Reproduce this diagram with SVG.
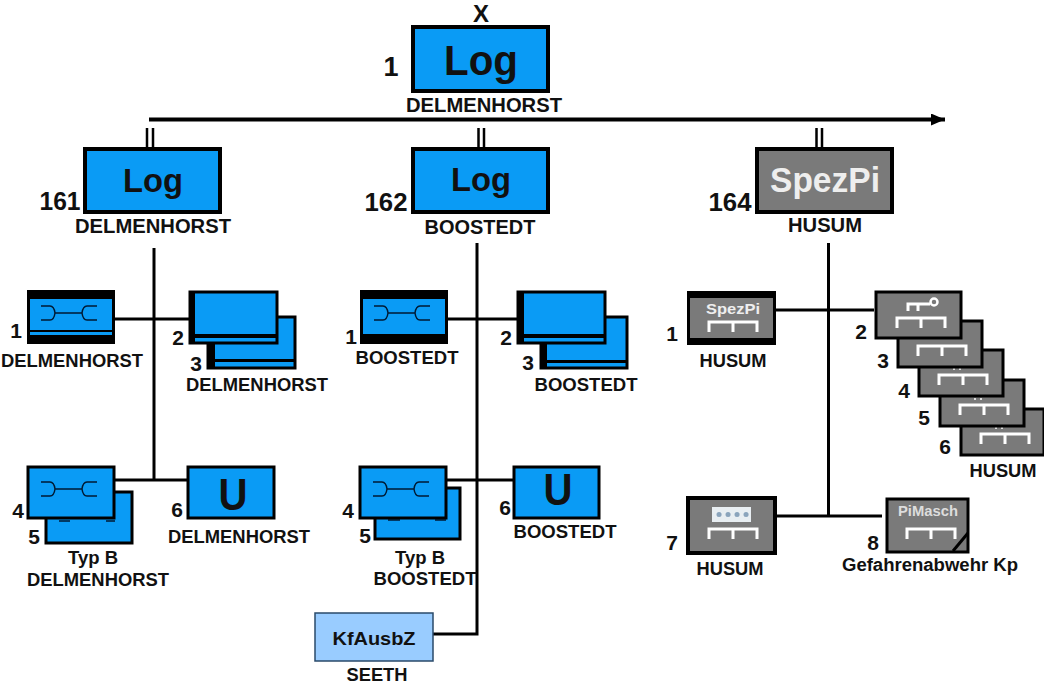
<svg xmlns="http://www.w3.org/2000/svg" width="1044" height="683" viewBox="0 0 1044 683">
<style>
text{font-family:"Liberation Sans",Arial,sans-serif;font-weight:bold;fill:#111;text-anchor:middle}
.lb{font-size:18px}
.lt{font-size:19.500px}
.n{font-size:21px}
.nb{font-size:25px}
.blue{fill:#0a9bf5;stroke:#000;stroke-width:4}
.blues{fill:#0a9bf5;stroke:#000;stroke-width:3}
.gray{fill:#7a7a7a;stroke:#000;stroke-width:4}
.grays{fill:#7a7a7a;stroke:#000;stroke-width:3}
.line{fill:none;stroke:#000;stroke-width:3}
.fork{fill:none;stroke:#001a33;stroke-width:1.500}
.br{fill:none;stroke:#fff;stroke-width:3}
.bit{fill:#fff}
</style>
<defs>
<g id="fork"><path class="fork" d="M0-7H9Q13-7 14 0H41Q42-7 46-7H56M0 7H9Q13 7 14 0M41 0Q42 7 46 7H56"/></g>
<g id="bridge"><path class="br" d="M0 10V0H48V10M24 0V10"/></g>
<marker id="arr" markerUnits="userSpaceOnUse" markerWidth="16" markerHeight="14" refX="14" refY="6" orient="auto"><path d="M0 0L14 6L0 12Z" fill="#000"/></marker>
</defs>
<rect width="1044" height="683" fill="#fff"/>
<g id="connectors">
<path d="M149 119.500H945" fill="none" stroke="#000" stroke-width="4" marker-end="url(#arr)"/>
<path class="line" style="stroke-width:2.500" d="M147 128V148M153 128V148M478.500 128V148M484 128V148M816.500 128V148M822 128V148"/>
<path class="line" d="M154 248V480M115 319H189M115 480H187"/>
<path class="line" d="M477 243V634H433M448 319H517M446 480H513"/>
<path class="line" d="M828.500 243V516M776 310H874M776 516H882"/>
</g>
<g id="top"><text x="481" y="22" style="font-size:24px" textLength="16" lengthAdjust="spacingAndGlyphs">X</text>
<rect class="blue" x="413" y="27" width="135" height="64"/>
<text x="481" y="75" style="font-size:43px" textLength="74" lengthAdjust="spacingAndGlyphs">Log</text>
<text x="391" y="76" class="nb" style="font-size:27px">1</text>
<text x="484" y="112" class="lt" textLength="156" lengthAdjust="spacingAndGlyphs">DELMENHORST</text></g>
<g id="n161"><rect class="blue" x="85" y="149" width="135" height="63"/>
<text x="153" y="192" style="font-size:34px" textLength="60" lengthAdjust="spacingAndGlyphs">Log</text>
<text x="60" y="210" class="nb" textLength="41" lengthAdjust="spacingAndGlyphs">161</text>
<text x="153" y="233" class="lt" textLength="156" lengthAdjust="spacingAndGlyphs">DELMENHORST</text></g>
<g id="n162"><rect class="blue" x="413" y="149" width="135" height="63"/>
<text x="481" y="191" style="font-size:34px" textLength="60" lengthAdjust="spacingAndGlyphs">Log</text>
<text x="386" y="211" class="nb" textLength="43" lengthAdjust="spacingAndGlyphs">162</text>
<text x="480" y="234" class="lt" textLength="111" lengthAdjust="spacingAndGlyphs">BOOSTEDT</text></g>
<g id="n164"><rect class="gray" x="757" y="149" width="135" height="63"/>
<text x="825" y="192" style="font-size:35px;fill:#eee" textLength="110" lengthAdjust="spacingAndGlyphs">SpezPi</text>
<text x="730" y="211" class="nb" textLength="43" lengthAdjust="spacingAndGlyphs">164</text>
<text x="825" y="232" class="lt" textLength="74" lengthAdjust="spacingAndGlyphs">HUSUM</text></g>

<g id="d1"><rect x="27" y="290" width="88" height="54" fill="#000"/><rect x="30" y="299" width="82" height="36" fill="#0a9bf5"/><rect x="30" y="330" width="82" height="2" fill="#000"/>
<use href="#fork" x="41" y="313"/><text x="16" y="338" class="n">1</text><text x="72" y="367" class="lb" textLength="142" lengthAdjust="spacingAndGlyphs">DELMENHORST</text></g>
<g id="d3"><rect x="208" y="317" width="87" height="51" class="blues"/><rect x="208" y="316" width="7" height="53" fill="#000"/><rect x="214" y="359" width="80" height="3" fill="#000"/>
<text x="196" y="371" class="n">3</text><text x="257" y="391" class="lb" textLength="142" lengthAdjust="spacingAndGlyphs">DELMENHORST</text></g>
<g id="d2"><rect x="190" y="292" width="87" height="51" class="blues"/><rect x="189" y="291" width="6" height="53" fill="#000"/><rect x="194" y="334" width="82" height="4" fill="#000"/>
<text x="178" y="345" class="n">2</text></g>
<g id="d5"><rect x="46" y="492" width="86" height="51" class="blues"/><path d="M59 521H70M106 521H115" stroke="#001a33" stroke-width="1.500"/><text x="34" y="544" class="n">5</text>
<text x="93" y="564" class="lb" textLength="50" lengthAdjust="spacingAndGlyphs">Typ B</text><text x="98" y="586" class="lb" textLength="142" lengthAdjust="spacingAndGlyphs">DELMENHORST</text></g>
<g id="d4"><rect x="28" y="467" width="86" height="51" class="blues"/><use href="#fork" x="41" y="489"/><text x="18" y="518" class="n">4</text></g>
<g id="d6"><rect x="188" y="467" width="86" height="51" class="blues"/><text x="233" y="510" style="font-size:45px" textLength="29" lengthAdjust="spacingAndGlyphs">U</text><text x="177" y="517" class="n">6</text><text x="239" y="543" class="lb" textLength="142" lengthAdjust="spacingAndGlyphs">DELMENHORST</text></g>

<g id="b1"><rect x="360" y="290" width="88" height="54" fill="#000"/><rect x="363" y="299" width="82" height="35" fill="#0a9bf5"/>
<use href="#fork" x="374" y="313"/><text x="351" y="344" class="n">1</text><text x="407" y="364" class="lb" textLength="103" lengthAdjust="spacingAndGlyphs">BOOSTEDT</text></g>
<g id="b3"><rect x="541" y="317" width="86" height="51" class="blues"/><rect x="540" y="316" width="7" height="53" fill="#000"/><rect x="546" y="360" width="80" height="3" fill="#000"/>
<text x="528" y="370" class="n">3</text><text x="586" y="391" class="lb" textLength="103" lengthAdjust="spacingAndGlyphs">BOOSTEDT</text></g>
<g id="b2"><rect x="518" y="292" width="87" height="51" class="blues"/><rect x="517" y="291" width="7" height="53" fill="#000"/><rect x="523" y="334" width="81" height="4" fill="#000"/>
<text x="506" y="345" class="n">2</text></g>
<g id="b5"><rect x="375" y="488" width="85" height="51" class="blues"/><path d="M388 520H400M435 520H446" stroke="#001a33" stroke-width="1.500"/><text x="365" y="543" class="n">5</text>
<text x="420" y="564" class="lb" textLength="50" lengthAdjust="spacingAndGlyphs">Typ B</text><text x="425" y="585" class="lb" textLength="103" lengthAdjust="spacingAndGlyphs">BOOSTEDT</text></g>
<g id="b4"><rect x="360" y="467" width="86" height="51" class="blues"/><use href="#fork" x="373" y="489"/><text x="348" y="518" class="n">4</text></g>
<g id="b6"><rect x="514" y="467" width="85" height="51" class="blues"/><text x="558" y="505" style="font-size:45px" textLength="29" lengthAdjust="spacingAndGlyphs">U</text><text x="505" y="515" class="n">6</text><text x="565" y="538" class="lb" textLength="103" lengthAdjust="spacingAndGlyphs">BOOSTEDT</text></g>
<g id="kf"><rect x="315" y="613" width="118" height="48" fill="#99ccff" stroke="#2a4a6a" stroke-width="1.500"/><text x="374" y="645" style="font-size:19px" textLength="83" lengthAdjust="spacingAndGlyphs">KfAusbZ</text><text x="377" y="681" class="lb" textLength="61" lengthAdjust="spacingAndGlyphs">SEETH</text></g>

<g id="h1"><rect x="687" y="291" width="89" height="54" fill="#000"/><rect x="690" y="298" width="83" height="40" fill="#7a7a7a"/><text x="733" y="314" style="font-size:15px;fill:#eee" textLength="54" lengthAdjust="spacingAndGlyphs">SpezPi</text><use href="#bridge" x="709" y="322"/><text x="672" y="341" class="n">1</text><text x="733" y="367" class="lb" textLength="67" lengthAdjust="spacingAndGlyphs">HUSUM</text></g>
<g id="h6"><rect x="961" y="409" width="83" height="46" class="grays"/><path d="M996 427v2M1002 427v2" stroke="#fff" stroke-width="1.500"/><use href="#bridge" x="981" y="434"/><text x="945" y="454" class="n">6</text><text x="1003" y="477" class="lb" textLength="67" lengthAdjust="spacingAndGlyphs">HUSUM</text></g>
<g id="h5"><rect x="940" y="380" width="84" height="46" class="grays"/><path d="M975 398v2M981 398v2" stroke="#fff" stroke-width="1.500"/><use href="#bridge" x="960" y="405"/><text x="924" y="425" class="n">5</text></g>
<g id="h4"><rect x="919" y="350" width="84" height="46" class="grays"/><path d="M954 368v2M960 368v2" stroke="#fff" stroke-width="1.500"/><use href="#bridge" x="939" y="375"/><text x="904" y="398" class="n">4</text></g>
<g id="h3"><rect x="898" y="321" width="84" height="46" class="grays"/><use href="#bridge" x="918" y="346"/><text x="883" y="368" class="n">3</text></g>
<g id="h2"><rect x="876" y="292" width="85" height="46" class="grays"/><use href="#bridge" x="897" y="318"/><path class="br" d="M908 311V304H930M918 304V311"/><circle cx="934" cy="302" r="3.500" fill="none" stroke="#fff" stroke-width="2.500"/><text x="861" y="339" class="n">2</text></g>
<g id="h7"><rect x="688" y="498" width="87" height="55" class="gray"/><rect x="712" y="507" width="39" height="15" fill="#e8eef2"/><path d="M719 514.500h.1M728 514.500h.1M737 514.500h.1M746 514.500h.1" stroke="#8aa4bc" stroke-width="5" stroke-linecap="round"/><use href="#bridge" x="709" y="529"/><text x="672" y="550" class="n">7</text><text x="730" y="575" class="lb" textLength="67" lengthAdjust="spacingAndGlyphs">HUSUM</text></g>
<g id="h8"><rect x="887" y="499" width="81" height="53" class="grays"/><text x="928" y="516" style="font-size:15px;fill:#ddd" textLength="60" lengthAdjust="spacingAndGlyphs">PiMasch</text><use href="#bridge" x="907" y="529"/><path d="M953 551L968 533" stroke="#000" stroke-width="3"/><text x="873" y="550" class="n">8</text><text x="930" y="571" class="lb" textLength="176" lengthAdjust="spacingAndGlyphs">Gefahrenabwehr Kp</text></g>
</svg>
